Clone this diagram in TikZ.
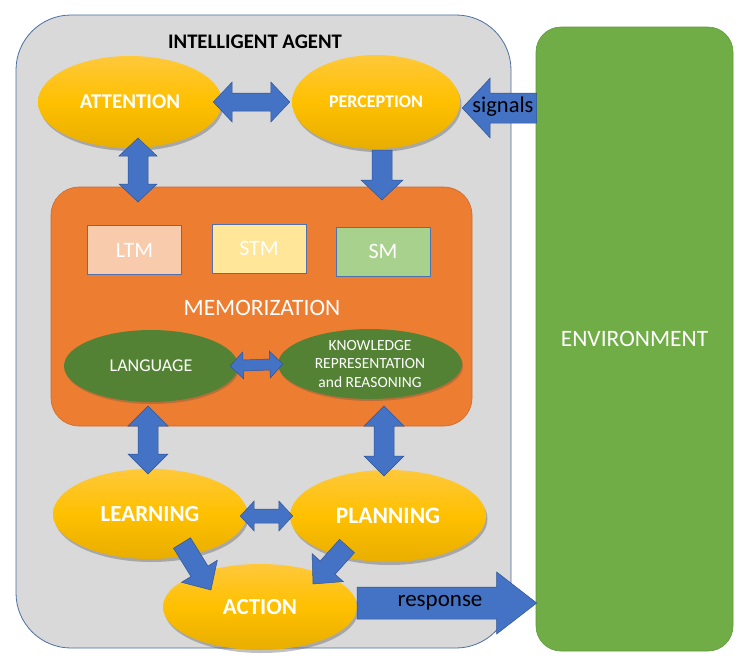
\documentclass[tikz,border=0pt]{standalone}
\usepackage{fontspec}
\setmainfont{Carlito}
\usetikzlibrary{calc,shadows,shapes.geometric}
\definecolor{agentfill}{HTML}{D9D9D9}
\definecolor{agentdraw}{HTML}{4A6FA5}
\definecolor{envfill}{HTML}{70AD47}
\definecolor{envdraw}{HTML}{5E9A3A}
\definecolor{memofill}{HTML}{ED7D31}
\definecolor{memodraw}{HTML}{D0692A}
\definecolor{goldtop}{HTML}{FFC83A}
\definecolor{goldmid}{HTML}{FFC000}
\definecolor{goldbot}{HTML}{E8AE00}
\definecolor{darkgreen}{HTML}{548235}
\definecolor{arrfill}{HTML}{4472C4}
\definecolor{arrdraw}{HTML}{2F5597}
\definecolor{ltmfill}{HTML}{F8CBAD}
\definecolor{stmfill}{HTML}{FFE699}
\definecolor{smfill}{HTML}{A9D18E}
\definecolor{boxdraw}{HTML}{4F71B0}
\tikzset{
  goldell/.style={ellipse, minimum width=2*#1, inner sep=0pt, top color=goldtop, bottom color=goldbot, middle color=goldmid, draw=none,
    drop shadow={shadow xshift=1.5pt, shadow yshift=-3pt, opacity=0.35, fill=black!70}, text=white, font=\bfseries},
  greenell/.style={ellipse, inner sep=0pt, fill=darkgreen, draw=none,
    drop shadow={shadow xshift=1pt, shadow yshift=-2pt, opacity=0.3, fill=black!70}, text=white},
  membox/.style={rectangle, draw=boxdraw, line width=0.9pt, minimum width=94pt, minimum height=49pt, inner sep=0pt, text=white, font=\fontsize{22}{26}\selectfont},
  blockarrow/.style={fill=arrfill, draw=arrdraw, line width=0.5pt, line join=miter},
}
% single block arrow: from, to, shaft half, head half, head length
\newcommand{\sarrow}[5]{%
  \path[blockarrow] let \p1=(#1), \p2=(#2),
    \n1={scalar(atan2(\y2-\y1,\x2-\x1))}, \n2={veclen(\x2-\x1,\y2-\y1)} in
    [shift={(\p1)}, rotate=\n1]
    (0pt,-#3pt) -- ({\n2-#5pt},-#3pt) -- ({\n2-#5pt},-#4pt) -- (\n2,0pt)
    -- ({\n2-#5pt},#4pt) -- ({\n2-#5pt},#3pt) -- (0pt,#3pt) -- cycle;}
% double block arrow
\newcommand{\darrow}[5]{%
  \path[blockarrow] let \p1=(#1), \p2=(#2),
    \n1={scalar(atan2(\y2-\y1,\x2-\x1))}, \n2={veclen(\x2-\x1,\y2-\y1)} in
    [shift={(\p1)}, rotate=\n1]
    (0pt,0pt) -- (#5pt,-#4pt) -- (#5pt,-#3pt) -- ({\n2-#5pt},-#3pt) -- ({\n2-#5pt},-#4pt) -- (\n2,0pt)
    -- ({\n2-#5pt},#4pt) -- ({\n2-#5pt},#3pt) -- (#5pt,#3pt) -- (#5pt,#4pt) -- cycle;}
\begin{document}
\begin{tikzpicture}[x=1pt,y=-1pt]
\useasboundingbox (0,0) rectangle (747,657);
\fill[white] (0,0) rectangle (747,657);
% containers
\node (agent) [rectangle, fill=agentfill, draw=agentdraw, line width=0.8pt, rounded corners=55pt,
  minimum width=495pt, minimum height=633pt, inner sep=0pt] at (263.5,331.5) {};
\node (title) at (255,42) {\fontsize{20.7}{24}\selectfont\bfseries INTELLIGENT AGENT};
\node (env) [rectangle, fill=envfill, draw=envdraw, line width=0.6pt, rounded corners=25pt,
  minimum width=197pt, minimum height=624pt, inner sep=0pt, text=white, font=\fontsize{23.5}{26}\selectfont] at (634.5,339) {ENVIRONMENT};
\node (memo) [rectangle, fill=memofill, draw=memodraw, line width=0.6pt, rounded corners=28pt,
  minimum width=421pt, minimum height=239pt, inner sep=0pt] at (261.5,306.5) {};
\node (memolabel) [text=white, font=\fontsize{23.5}{26}\selectfont] at (262,308) {MEMORIZATION};
% memory boxes
\node (ltm) [membox, fill=ltmfill] at (134.5,250) {LTM};
\node (stm) [membox, fill=stmfill] at (259,248.5) {STM};
\node (sm)  [membox, fill=smfill]  at (383,251.5) {SM};
% green ellipses
\node (lang) [greenell, minimum width=174pt, minimum height=72pt, font=\fontsize{18}{21}\selectfont] at (151,366) {LANGUAGE};
\node (krr) [greenell, minimum width=184pt, minimum height=70pt, font=\fontsize{15.5}{18.5}\selectfont, align=center] at (370,364)
  {KNOWLEDGE\\REPRESENTATION\\and REASONING};
% gold ellipses
\node (att)  [goldell=92pt, minimum height=92pt, font=\bfseries\fontsize{21}{24}\selectfont] at (130,102) {ATTENTION};
\node (perc) [goldell=84pt, minimum height=94pt, font=\bfseries\fontsize{18}{21}\selectfont] at (376,102) {PERCEPTION};
\node (learn) [goldell=97pt, minimum height=90pt, font=\bfseries\fontsize{23}{26}\selectfont] at (150,514) {LEARNING};
\node (plan) [goldell=98pt, minimum height=92pt, font=\bfseries\fontsize{23.5}{26}\selectfont] at (388,516) {PLANNING};
\node (act) [goldell=97pt, minimum height=86pt, font=\bfseries\fontsize{23}{26}\selectfont] at (260,607) {ACTION};
% connector end points
\coordinate (am1) at (138,138);
\coordinate (am2) at (138,202);
\coordinate (pm1) at (382,150);
\coordinate (pm2) at (382,200);
\coordinate (ml1) at (148,406);
\coordinate (ml2) at (148,474);
\coordinate (mp1) at (384,406);
\coordinate (mp2) at (384,476);
\coordinate (la1) at (182,543);
\coordinate (la2) at (211,590);
\coordinate (pa1) at (347,546);
\coordinate (pa2) at (313,584);
% connectors
\darrow{$(att.east)+(-9,0)$}{$(perc.west)+(-2,0)$}{9}{20}{19}
\darrow{am1}{am2}{10}{19}{18}
\sarrow{pm1}{pm2}{10}{21}{20}
\darrow{$(lang.east)+(-8,0)$}{$(krr.west)+(5,0)$}{5.5}{13.5}{13}
\darrow{ml1}{ml2}{10}{20}{20}
\darrow{mp1}{mp2}{10}{20}{20}
\darrow{$(learn.east)+(-7,2)$}{$(plan.west)+(3,0)$}{7}{15}{14}
\sarrow{la1}{la2}{10}{21}{22}
\sarrow{pa1}{pa2}{10}{21}{22}
\sarrow{$(env.west |- perc)+(1,6)$}{$(perc.east)+(2,6)$}{15}{30}{28}
\sarrow{$(act.east)+(0,-4)$}{$(env.west |- act)+(1,-4)$}{16}{31}{40}
% arrow labels
\node (siglabel) [font=\fontsize{22.5}{26}\selectfont] at (503,107) {signals};
\node (resplabel) [font=\fontsize{23}{26}\selectfont] at (440,603) {response};
\end{tikzpicture}
\end{document}
